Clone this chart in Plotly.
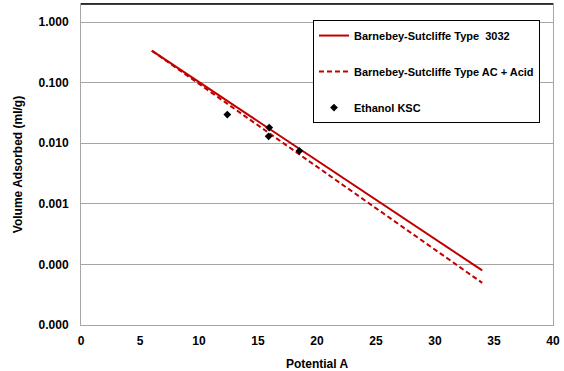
import plotly.graph_objects as go

# Data
line_x = [6, 34]
bs_3032 = [0.336, 7.96e-5]
bs_ac_acid = [0.336, 4.96e-5]
ethanol_x = [12.4, 15.95, 15.9, 18.5]
ethanol_y = [0.0297, 0.0181, 0.0130, 0.00746]

y_tickvals = [1, 0.1, 0.01, 0.001, 0.0001, 0.00001]
y_ticktext = ["1.000", "0.100", "0.010", "0.001", "0.000", "0.000"]
x_tickvals = [0, 5, 10, 15, 20, 25, 30, 35, 40]

FONT = "Liberation Sans"
RED = "#c00000"

fig = go.Figure()
fig.add_trace(go.Scatter(x=line_x, y=bs_3032, mode="lines",
                         name="<b>Barnebey-Sutcliffe Type  3032</b>",
                         line=dict(color=RED, width=2), legendgroup="a"))
fig.add_trace(go.Scatter(x=line_x, y=bs_ac_acid, mode="lines",
                         name="<b>Barnebey-Sutcliffe Type AC + Acid</b>",
                         line=dict(color=RED, width=2, dash="5px,3px"), legendgroup="b"))
fig.add_trace(go.Scatter(x=ethanol_x, y=ethanol_y, mode="markers",
                         name="<b>Ethanol KSC</b>",
                         marker=dict(color="black", symbol="diamond", size=6), legendgroup="c"))

fig.update_layout(
    width=564, height=371,
    margin=dict(l=81, r=11, t=4, b=46, autoexpand=False),
    paper_bgcolor="white", plot_bgcolor="white",
    font=dict(family=FONT, size=12, color="black"),
    legend=dict(x=0.4915, y=0.95, xanchor="left", yanchor="top",
                bgcolor="white", bordercolor="black", borderwidth=1,
                font=dict(family=FONT, size=11, color="black"),
                tracegroupgap=17, itemwidth=30),
    xaxis=dict(range=[0, 40], tickvals=x_tickvals, ticktext=[f"<b>{v}</b>" for v in x_tickvals],
               showgrid=False, automargin=False, ticklabelstandoff=5,
               showline=True, linecolor="#a6a6a6", linewidth=1, mirror=True,
               ticks="", zeroline=False,
               tickfont=dict(family=FONT, size=12, color="black"),
               title=dict(text="<b>Potential A</b>", font=dict(family=FONT, size=12), standoff=12)),
    yaxis=dict(type="log", range=[-5, 0.297], tickvals=y_tickvals, ticktext=[f"<b>{t}</b>" for t in y_ticktext],
               showgrid=True, gridcolor="#a6a6a6", gridwidth=1, automargin=False, ticklabelstandoff=9,
               showline=True, linecolor="#a6a6a6", linewidth=1, mirror=True,
               ticks="", zeroline=False,
               tickfont=dict(family=FONT, size=12, color="black"),
               title=dict(text="<b>Volume Adsorbed (ml/g)</b>", font=dict(family=FONT, size=12), standoff=13)),
)
fig.add_shape(type="line", xref="paper", yref="paper", x0=0, x1=1, y0=1, y1=1,
              line=dict(color="black", width=1.5))

fig.write_html("out.html", config={"displayModeBar": False},
               post_script="document.body.style.margin='0';document.body.style.padding='0';")
